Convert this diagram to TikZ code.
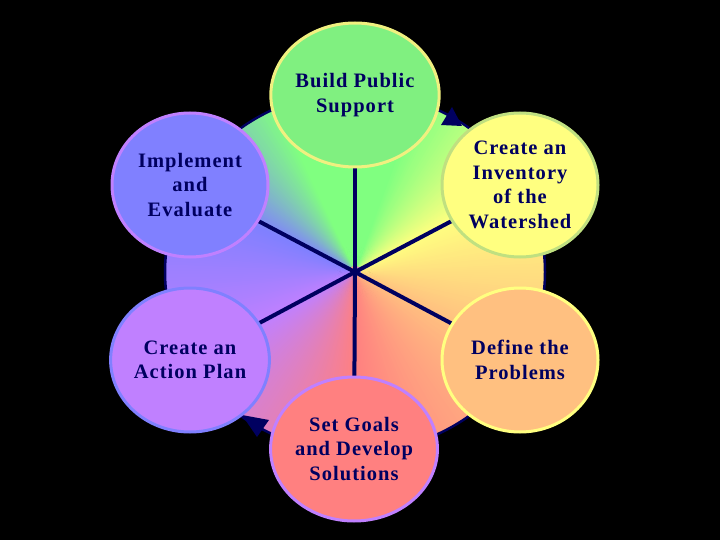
\documentclass[tikz,border=0pt]{standalone}
\usepackage{fontspec}
\setmainfont{Liberation Serif}
\newfontfamily\lblfont{Liberation Serif}[LetterSpace=5]
\usetikzlibrary{shapes.geometric}
\definecolor{navy}{HTML}{000060}
\definecolor{wGr}{HTML}{80FF80}
\definecolor{wYe}{HTML}{FFFF80}
\definecolor{wOr}{HTML}{FFC080}
\definecolor{wSa}{HTML}{FF8080}
\definecolor{wVi}{HTML}{C080FF}
\definecolor{wBl}{HTML}{8080FF}
\definecolor{bGr}{HTML}{80F080}
\definecolor{eYe}{HTML}{F0F080}
\definecolor{eLg}{HTML}{C0E080}
\tikzset{
  stage/.style={ellipse, minimum width=156pt, minimum height=144pt, inner sep=0pt,
    line width=3pt, align=center, text=navy,
    font=\lblfont\bfseries\fontsize{20.5}{24.5}\selectfont},
  spoke/.style={draw=navy, line width=4pt},
  rim/.style={draw=navy, line width=2.5pt}
}
\begin{document}
\begin{tikzpicture}[x=1pt,y=-1pt]
\fill[black] (0,0) rectangle (720,540);
\useasboundingbox (0,0) rectangle (720,540);
\coordinate (c) at (355,272);
\begin{scope}
  \clip (c) ellipse [x radius=190pt, y radius=180pt];
  \foreach \s/\n/\ca/\cb in {-28/56/wOr/wYe, 28/42/wYe/wGr, 70/45/wGr/wGr, 115/40/wGr/wBl, 155/53/wBl/wVi, 208/62/wVi/wSa, 270/62/wSa/wOr}{
    \pgfmathtruncatemacro\m{\n-1}
    \foreach \i in {0,...,\m}{
      \pgfmathtruncatemacro\p{100*\i/\n}
      \fill[\cb!\p!\ca] ({355-6*cos(\s+\i+0.8)},{272+6*sin(\s+\i+0.8)})
        -- ({355+260*cos(\s+\i-0.3)},{272-260*sin(\s+\i-0.3)})
        -- ({355+260*cos(\s+\i+1.6)},{272-260*sin(\s+\i+1.6)}) -- cycle;
    }
  }
\end{scope}
\draw[rim] (c) ellipse [x radius=190pt, y radius=180pt];
\fill[navy] (452,107) -- (441,125) -- (462,126) -- cycle;
\fill[navy] (242,415) -- (269,420) -- (257,437) -- cycle;
\coordinate (p1) at (355,95);
\coordinate (p2) at (520,185);
\coordinate (p3) at (520,360);
\coordinate (p4) at (354,449);
\coordinate (p5) at (190,360);
\coordinate (p6) at (190,185);
\foreach \k in {1,...,6}{\draw[spoke] (c) -- (p\k);}
\node[stage, fill=bGr, draw=eYe] (build) at (p1) {Build Public\\Support};
\node[stage, fill=wYe, draw=eLg] (inv) at (p2) {Create an\\Inventory\\of the\\Watershed};
\node[stage, fill=wOr, draw=wYe] (def) at (p3) {Define the\\Problems};
\node[stage, fill=wSa, draw=wVi] (goals) at (p4) {Set Goals\\and Develop\\Solutions};
\node[stage, fill=wVi, draw=wBl] (plan) at (p5) {Create an\\Action Plan};
\node[stage, fill=wBl, draw=wVi] (impl) at (p6) {Implement\\and\\Evaluate};
\end{tikzpicture}
\end{document}
